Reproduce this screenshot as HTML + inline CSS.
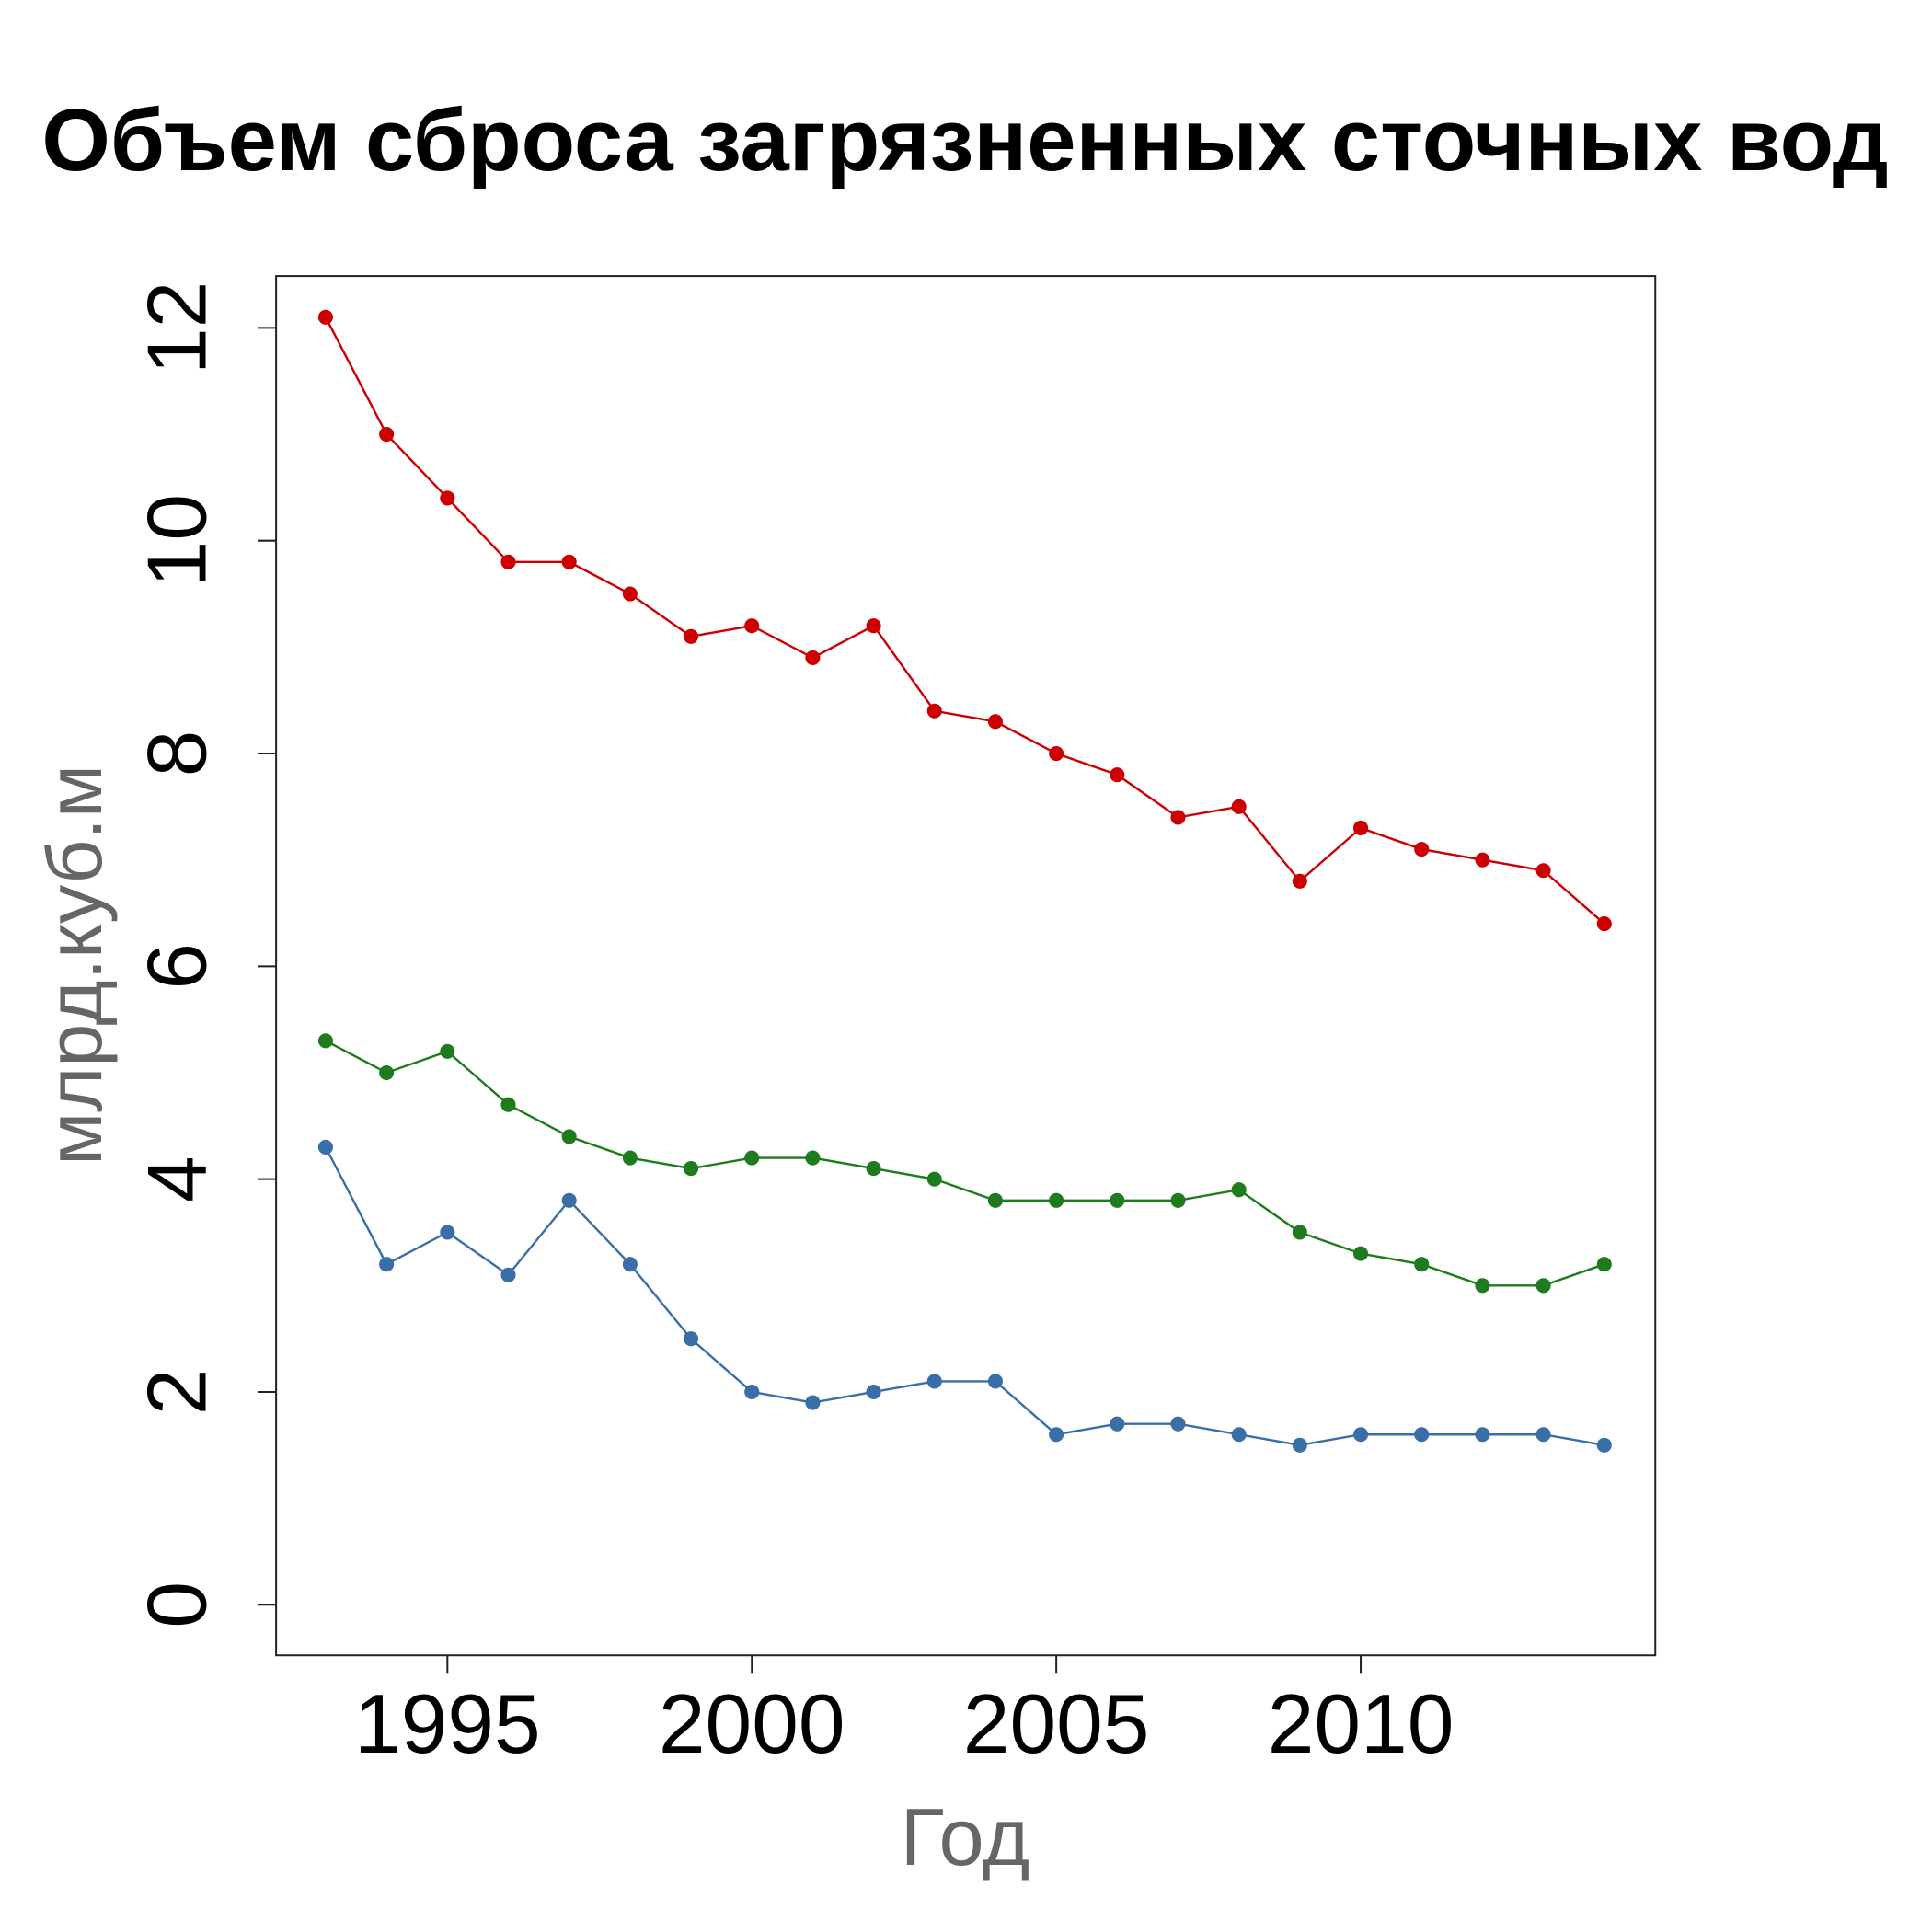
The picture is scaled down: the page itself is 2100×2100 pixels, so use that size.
<!DOCTYPE html>
<html><head><meta charset="utf-8"><style>html,body{margin:0;padding:0;background:#fff}svg{display:block}</style></head>
<body>
<svg width="2100" height="2100" viewBox="0 0 1567.5 1567.5" xmlns="http://www.w3.org/2000/svg" font-family="Liberation Sans, DejaVu Sans, sans-serif">
<text x="783" y="138" text-anchor="middle" font-size="71.5" font-weight="bold">Объем сброса загрязненных сточных вод</text>
<rect x="224" y="224" width="1119" height="1119" fill="none" stroke="#222" stroke-width="1.5"/>
<g id="axes"></g>
<g id="series"></g>
<text x="783" y="1513" text-anchor="middle" font-size="66" fill="#666">Год</text>
<text transform="translate(82,783) rotate(-90)" text-anchor="middle" font-size="63" fill="#666">млрд.куб.м</text>
</svg>
<script>
const years=[1993,1994,1995,1996,1997,1998,1999,2000,2001,2002,2003,2004,2005,2006,2007,2008,2009,2010,2011,2012,2013,2014];
const redValues=[12.1,11,10.4,9.8,9.8,9.5,9.1,9.2,8.9,9.2,8.4,8.3,8.0,7.8,7.4,7.5,6.8,7.3,7.1,7.0,6.9,6.4];
const greenValues=[5.3,5.0,5.2,4.7,4.4,4.2,4.1,4.2,4.2,4.1,4.0,3.8,3.8,3.8,3.8,3.9,3.5,3.3,3.2,3.0,3.0,3.2];
const blueValues=[4.3,3.2,3.5,3.1,3.8,3.2,2.5,2.0,1.9,2.0,2.1,2.1,1.6,1.7,1.7,1.6,1.5,1.6,1.6,1.6,1.6,1.5];
const xTicks=[1995,2000,2005,2010];
const yTicks=[0,2,4,6,8,10,12];
const NS="http://www.w3.org/2000/svg";
function xs(v){return 363+(v-1995)*(1104-363)/15;}
function ys(v){return 1302-(v)*(1302-266)/12;}
const axes=document.getElementById('axes'),series=document.getElementById('series');
function mk(t,a,p){const e=document.createElementNS(NS,t);for(const k in a)e.setAttribute(k,a[k]);p.appendChild(e);return e;}
xTicks.forEach(t=>{
 const l=mk('line',{x1:xs(t),x2:xs(t),y1:1343,y2:1358,stroke:'#222','stroke-width':1.5},axes);
 
 
 const tx=mk('text',{x:xs(t),y:1422,'text-anchor':'middle','font-size':68},axes);tx.textContent=t;
 
 
});
yTicks.forEach(t=>{
 const l=mk('line',{x1:209,x2:224,y1:ys(t),y2:ys(t),stroke:'#222','stroke-width':1.5},axes);
 
 
 const tx=mk('text',{transform:`translate(167,${ys(t)}) rotate(-90)`,'text-anchor':'middle','font-size':68},axes);tx.textContent=t;
 
 
});
[[redValues,'#cc0000','red'],[greenValues,'#1e7b1e','green'],[blueValues,'#3a6ea8','blue']].forEach(([vals,c,n])=>{
 const pl=mk('polyline',{points:vals.map((v,i)=>xs(years[i])+','+ys(v)).join(' '),fill:'none',stroke:c,'stroke-width':1.8},series);
 
 
 vals.forEach((v,i)=>{
  const p=mk('circle',{cx:xs(years[i]),cy:ys(v),r:6,fill:c},series);
  
  
 });
});
</script>
</body></html>
